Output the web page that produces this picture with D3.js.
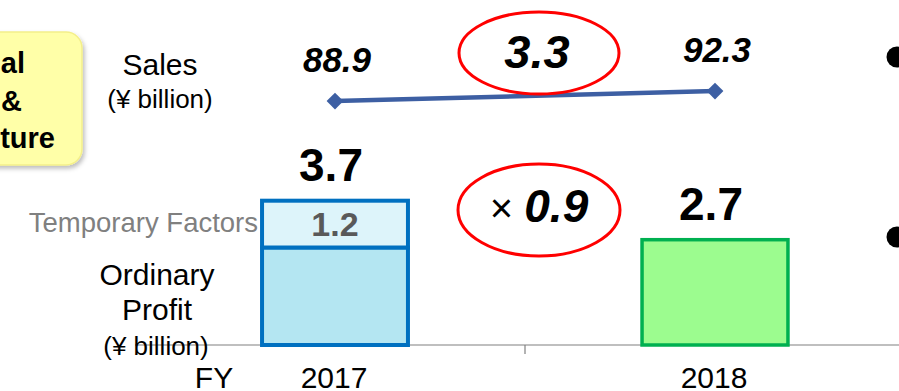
<!DOCTYPE html>
<html>
<head>
<meta charset="utf-8">
<script src="https://cdn.jsdelivr.net/npm/d3@7"></script>
<style>
  body { margin: 0; background: #fff; }
  svg { display: block; font-family: "Liberation Sans", Arial, sans-serif; }
</style>
</head>
<body>
<div class="plot-item"></div>
<script>
  // chart values
  var years = ["2017", "2018"];
  var sales = [88.9, 92.3];
  var ordinary = [2.5, 2.7];
  var temporary = [1.2, 0];
  var totals = [3.7, 2.7];
  var salesGrowth = "3.3";
  var profitRatio = "0.9";
  var boxLines = ["al", "&", "ture"];

  var w = 899, h = 391;
  var svg = d3.select(".plot-item").append("svg")
        .attr("width", w)
        .attr("height", h);

  var defs = svg.append("defs");
  var shadow = defs.append("filter").attr("id", "shadow")
        .attr("x", "-20%").attr("y", "-20%").attr("width", "150%").attr("height", "150%");
  shadow.append("feDropShadow")
        .attr("dx", 2).attr("dy", 3).attr("stdDeviation", 2)
        .attr("flood-color", "#000").attr("flood-opacity", 0.25);

  var x = d3.scaleBand()
        .domain(years)
        .range([145, 905])
        .paddingInner(0.616)
        .paddingOuter(0.308);
  var y = d3.scaleLinear()
        .domain([0, 4])
        .range([345, 189]);
  var ySales = d3.scaleLinear()
        .domain([85, 95])
        .range([112.5, 83.1]);

  var cx = function(d){ return x(d) + x.bandwidth() / 2; };
  var mid = (cx(years[0]) + cx(years[1])) / 2;

  var fills = ["#B4E6F2", "#9CFC8F"];
  var tempFill = "#DDF4FA";
  var strokes = ["#0070C0", "#00B050"];

  // yellow box at left edge
  svg.append("rect")
    .attr("x", -40).attr("y", 32)
    .attr("width", 122).attr("height", 133)
    .attr("rx", 16)
    .style("fill", "#FFFFA8")
    .style("stroke", "#F4EF8A")
    .style("stroke-width", 1.5)
    .attr("filter", "url(#shadow)");
  var boxEnds = [25, 22, 55];
  var boxBase = [73, 111, 148];
  svg.selectAll(".box-text")
    .data(boxLines)
    .enter().append("text")
      .attr("x", function(d, i){ return boxEnds[i]; })
      .attr("y", function(d, i){ return boxBase[i]; })
      .attr("text-anchor", "end")
      .style("font-weight", "bold")
      .style("font-size", "29px")
      .text(function(d){ return d; });

  // axis line and divider tick
  svg.append("line")
    .attr("x1", 135).attr("x2", w)
    .attr("y1", y(0)).attr("y2", y(0))
    .style("stroke", "#808080").style("stroke-width", 1.2);
  svg.append("line")
    .attr("x1", mid).attr("x2", mid)
    .attr("y1", y(0)).attr("y2", y(0) + 9)
    .style("stroke", "#808080").style("stroke-width", 1.2);

  // left labels
  var left = svg.append("g").attr("text-anchor", "middle");
  left.append("text").attr("x", 160).attr("y", 75).style("font-size", "30px").text("Sales");
  left.append("text").attr("x", 160).attr("y", 108).style("font-size", "26px").text("(¥ billion)");
  left.append("text").attr("x", 157).attr("y", 285).style("font-size", "30px").text("Ordinary");
  left.append("text").attr("x", 157).attr("y", 320).style("font-size", "30px").text("Profit");
  left.append("text").attr("x", 156).attr("y", 355).style("font-size", "26px").text("(¥ billion)");
  svg.append("text")
    .attr("x", x(years[0]) - 4).attr("y", 232)
    .attr("text-anchor", "end")
    .style("font-size", "27.5px")
    .style("fill", "#808080")
    .text("Temporary Factors");
  svg.append("text")
    .attr("x", 214).attr("y", 388)
    .attr("text-anchor", "middle")
    .style("font-size", "30px")
    .text("FY");

  // bars
  var bars = svg.selectAll(".bar")
    .data(years)
    .enter().append("g")
      .classed("bar", true);
  bars.append("rect")
    .attr("x", function(d){ return x(d); })
    .attr("y", function(d, i){ return y(ordinary[i]); })
    .attr("width", x.bandwidth())
    .attr("height", function(d, i){ return y(0) - y(ordinary[i]); })
    .style("fill", function(d, i){ return fills[i]; })
    .style("stroke", function(d, i){ return strokes[i]; })
    .style("stroke-width", function(d, i){ return i == 0 ? 4 : 3.5; });
  bars.filter(function(d, i){ return temporary[i] > 0; })
    .append("rect")
    .attr("x", function(d){ return x(d); })
    .attr("y", function(d){ var i = years.indexOf(d); return y(ordinary[i] + temporary[i]); })
    .attr("width", x.bandwidth())
    .attr("height", function(d){ var i = years.indexOf(d); return y(ordinary[i]) - y(ordinary[i] + temporary[i]); })
    .style("fill", tempFill)
    .style("stroke", function(d){ return strokes[years.indexOf(d)]; })
    .style("stroke-width", 4);
  bars.filter(function(d, i){ return temporary[i] > 0; })
    .append("text")
    .attr("x", function(d){ return cx(d); })
    .attr("y", function(d){ var i = years.indexOf(d); return (y(ordinary[i]) + y(ordinary[i] + temporary[i])) / 2 + 12; })
    .attr("text-anchor", "middle")
    .style("font-size", "34px")
    .style("font-weight", "bold")
    .style("fill", "#595959")
    .text(function(d){ return temporary[years.indexOf(d)].toFixed(1); });

  // total labels
  svg.selectAll(".total")
    .data(years)
    .enter().append("text")
      .classed("total", true)
      .attr("x", function(d){ return cx(d) - 4; })
      .attr("y", function(d, i){ return y(totals[i]) - 20; })
      .attr("text-anchor", "middle")
      .style("font-size", "46px")
      .style("font-weight", "bold")
      .text(function(d, i){ return totals[i].toFixed(1); });

  // year labels
  svg.selectAll(".year")
    .data(years)
    .enter().append("text")
      .classed("year", true)
      .attr("x", function(d){ return cx(d) - 1; })
      .attr("y", 388)
      .attr("text-anchor", "middle")
      .style("font-size", "30px")
      .text(function(d){ return d; });

  // sales line
  var line = d3.line()
        .x(function(d, i){ return cx(years[i]); })
        .y(function(d){ return ySales(d); });
  svg.append("path")
    .datum(sales)
    .attr("d", line)
    .style("fill", "none")
    .style("stroke", "#3D5FA3")
    .style("stroke-width", 4.5);
  svg.selectAll(".marker")
    .data(sales)
    .enter().append("path")
      .classed("marker", true)
      .attr("d", d3.symbol().type(d3.symbolDiamond2).size(180))
      .attr("transform", function(d, i){ return "translate(" + cx(years[i]) + "," + ySales(d) + ")"; })
      .style("fill", "#3D5FA3");
  svg.selectAll(".sales-label")
    .data(sales)
    .enter().append("text")
      .classed("sales-label", true)
      .attr("x", function(d, i){ return cx(years[i]) + 2; })
      .attr("y", function(d){ return ySales(d) - 29; })
      .attr("text-anchor", "middle")
      .style("font-size", "35px")
      .style("font-weight", "bold")
      .style("font-style", "italic")
      .text(function(d){ return d.toFixed(1); });

  // red ellipse annotations
  var ann = svg.append("g");
  ann.append("ellipse")
    .attr("cx", mid + 14).attr("cy", 53)
    .attr("rx", 80).attr("ry", 41)
    .style("fill", "none").style("stroke", "#FF0000").style("stroke-width", 3);
  ann.append("text")
    .attr("x", mid + 12).attr("y", 68)
    .attr("text-anchor", "middle")
    .style("font-size", "47px")
    .style("font-weight", "bold")
    .style("font-style", "italic")
    .text(salesGrowth);
  ann.append("ellipse")
    .attr("cx", mid + 14).attr("cy", 210)
    .attr("rx", 81).attr("ry", 46)
    .style("fill", "none").style("stroke", "#FF0000").style("stroke-width", 3);
  var t = ann.append("text")
    .attr("x", mid + 14).attr("y", 222)
    .attr("text-anchor", "middle");
  t.append("tspan").style("font-size", "40px").text("× ");
  t.append("tspan")
    .style("font-size", "46px")
    .style("font-weight", "bold")
    .style("font-style", "italic")
    .text(profitRatio);

  // bullets cut off at right edge
  svg.selectAll(".bullet")
    .data([57, 237])
    .enter().append("circle")
      .classed("bullet", true)
      .attr("cx", 897).attr("cy", function(d){ return d; })
      .attr("r", 10.5)
      .style("fill", "#000");
</script>
</body>
</html>
